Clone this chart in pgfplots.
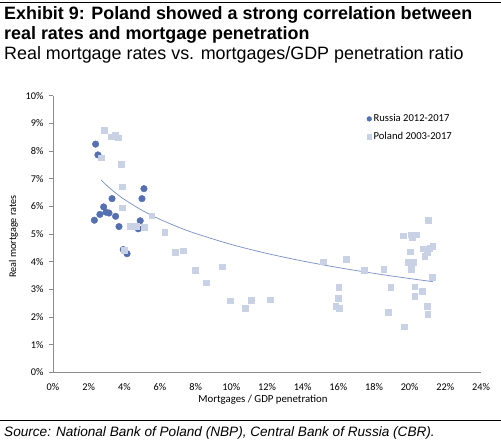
\documentclass[border=0pt]{standalone}
\usepackage{fontspec}
\setmainfont{Liberation Sans}
\newfontfamily\carlito{Carlito}
\usepackage{pgfplots}
\pgfplotsset{compat=1.18}
\definecolor{rus}{HTML}{5470B0}
\definecolor{pol}{HTML}{C9D1E4}
\definecolor{trend}{HTML}{7F93C6}
\definecolor{axgray}{HTML}{8C8C8C}
\begin{document}
\begin{tikzpicture}[x=1pt,y=1pt]
\path[use as bounding box] (0,0) rectangle (501,445);
\draw[line width=1.5pt] (0,442.7) -- (501,442.7);
\node[anchor=base west, inner sep=0, font=\bfseries\fontsize{17.9}{20}\selectfont] at (4,425.7) {Exhibit 9: Poland showed a strong correlation between};
\node[anchor=base west, inner sep=0, font=\bfseries\fontsize{17.9}{20}\selectfont] at (4,405.7) {real rates and mortgage penetration};
\node[anchor=base west, inner sep=0, font=\fontsize{17.9}{20}\selectfont] at (4,385.7) {Real mortgage rates vs. mortgages/GDP penetration ratio};
\draw[line width=1.2pt] (0,24.5) -- (501,24.5);
\node[anchor=base west, inner sep=0, font=\itshape\fontsize{13.6}{16}\selectfont] at (4,9) {Source: National Bank of Poland (NBP), Central Bank of Russia (CBR).};
\node[rotate=90, inner sep=0, font=\carlito\fontsize{10.2}{12}\selectfont] at (13.5,208.5) {Real mortgage rates};
\node[inner sep=0, font=\carlito\fontsize{10.8}{12}\selectfont] at (263,45.7) {Mortgages / GDP penetration};
\begin{axis}[
  at={(53pt,72.6pt)}, anchor=south west,
  scale only axis, width=428pt, height=276.7pt,
  xmin=0, xmax=24, ymin=0, ymax=10,
  axis x line*=bottom, axis y line*=left,
  axis line style={draw=axgray, line width=0.7pt},
  xtick={0,2,...,24}, ytick={0,1,...,10},
  xticklabel={\pgfmathprintnumber{\tick}\%},
  yticklabel={\pgfmathprintnumber{\tick}\%},
  /pgf/number format/assume math mode=true,
  ticklabel style={font=\carlito\fontsize{10.3}{12}\selectfont, text=black},
  xticklabel style={yshift=-4pt},
  yticklabel style={xshift=-2pt},
  tick align=outside,
  xtick style={draw=none},
  ytick style={draw=axgray, line width=0.7pt},
  major tick length=4pt,
  clip=false,
  legend cell align=left,
  legend style={at={(axis cs:17.59,9.40)}, anchor=north west, draw=none, fill=none, inner sep=0pt,
    font=\carlito\fontsize{10.6}{12}\selectfont, row sep=5pt},
  legend image code/.code={\draw[#1,mark repeat=2,mark phase=2,every mark/.append style={scale=0.72}] plot coordinates {(0pt,0pt) (3pt,0pt) (6pt,0pt)};},
]
\addplot[only marks, mark=*, mark size=3.3pt, mark options={draw=rus, fill=rus}] coordinates {
(2.39,8.25) (2.52,7.86) (2.32,5.50) (2.63,5.71) (2.84,5.98) (2.97,5.79) (3.14,5.76) (3.31,6.28)
(3.51,5.64) (3.70,5.27) (3.94,4.44) (4.15,4.29) (4.78,5.19) (4.89,5.48) (4.99,6.28) (5.10,6.64)
};
\addlegendentry{Russia 2012-2017}
\addplot[only marks, mark=square*, mark size=2.9pt, mark options={draw=pol, fill=pol}] coordinates {
(2.71,7.76) (2.88,8.76) (3.25,8.52) (3.51,8.56) (3.64,8.48) (3.83,7.51) (3.88,6.71) (3.88,5.95)
(4.01,4.42) (4.35,5.27) (4.67,5.27) (5.12,5.25) (5.53,5.66) (6.26,5.06) (6.83,4.35) (7.32,4.40)
(7.96,3.69) (8.61,3.24) (9.51,3.82) (9.92,2.59) (10.77,2.32) (11.13,2.62) (12.19,2.63) (15.13,4.00)
(16.43,4.09) (17.44,3.70) (18.54,3.74) (16.02,3.09) (15.97,2.69) (15.85,2.40) (16.04,2.32) (18.94,3.09)
(18.79,2.17) (19.68,1.65) (19.65,4.94) (20.07,4.98) (20.37,4.98) (20.15,4.87) (21.03,5.50) (20.04,4.36)
(20.77,4.47) (20.99,4.33) (21.29,4.57) (21.12,4.48) (20.84,4.21) (19.93,3.99) (20.22,3.98) (20.07,3.74)
(21.25,3.44) (20.28,3.10) (20.69,2.93) (20.28,2.76) (20.97,2.40) (21.01,2.10)
};
\addlegendentry{Poland 2003-2017}
\addplot[trend, line width=0.75pt, smooth, forget plot] coordinates {
(2.7,6.95) (3,6.763) (3.5,6.489) (4,6.252) (5,5.855) (6,5.531) (7,5.257) (8,5.020)
(10,4.623) (12,4.299) (14,4.025) (16,3.788) (18,3.579) (20,3.392) (21.3,3.280)
};
\end{axis}
\end{tikzpicture}
\end{document}
